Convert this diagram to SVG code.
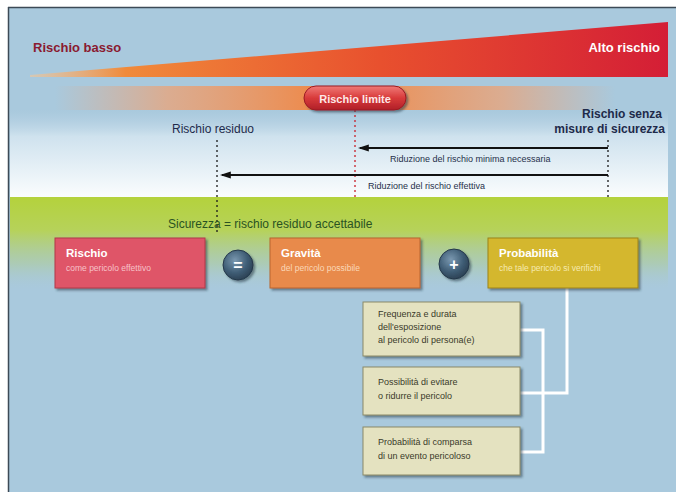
<svg xmlns="http://www.w3.org/2000/svg" width="676" height="492" viewBox="0 0 676 492">
<defs>
<linearGradient id="wedge" x1="0" y1="0" x2="1" y2="0">
<stop offset="0" stop-color="#f2c79a" stop-opacity="0.6"/>
<stop offset="0.15" stop-color="#f08a3a"/>
<stop offset="0.55" stop-color="#e8502e"/>
<stop offset="1" stop-color="#d41e36"/>
</linearGradient>
<linearGradient id="band" x1="0" y1="0" x2="1" y2="0">
<stop offset="0" stop-color="#f0a070" stop-opacity="0"/>
<stop offset="0.2" stop-color="#f0a070" stop-opacity="0.7"/>
<stop offset="0.5" stop-color="#f08440"/>
<stop offset="0.8" stop-color="#f0a070" stop-opacity="0.7"/>
<stop offset="1" stop-color="#f0a070" stop-opacity="0"/>
</linearGradient>
<linearGradient id="sky" x1="0" y1="0" x2="0" y2="1">
<stop offset="0" stop-color="#a9c9dd" stop-opacity="0.4"/>
<stop offset="0.3" stop-color="#cfe2ee"/>
<stop offset="1" stop-color="#fbfdfe"/>
</linearGradient>
<linearGradient id="green" x1="0" y1="0" x2="0" y2="1">
<stop offset="0" stop-color="#b4d23c"/>
<stop offset="0.35" stop-color="#b6d25a"/>
<stop offset="0.7" stop-color="#aecc9a" stop-opacity="0.6"/>
<stop offset="1" stop-color="#a9c9dd" stop-opacity="0"/>
</linearGradient>
<linearGradient id="pill" x1="0" y1="0" x2="0" y2="1">
<stop offset="0" stop-color="#f07a78"/>
<stop offset="0.5" stop-color="#d83a3a"/>
<stop offset="1" stop-color="#b02028"/>
</linearGradient>
<radialGradient id="knob" cx="0.4" cy="0.35" r="0.7">
<stop offset="0" stop-color="#7a98b0"/>
<stop offset="0.6" stop-color="#3e5c74"/>
<stop offset="1" stop-color="#2a3e50"/>
</radialGradient>
<marker id="ah" viewBox="0 0 10 10" refX="8" refY="5" markerWidth="11" markerHeight="9" orient="auto" markerUnits="userSpaceOnUse" preserveAspectRatio="none">
<path d="M0,1 L10,5 L0,9 Z" fill="#111"/>
</marker>
<filter id="sh" x="-10%" y="-10%" width="125%" height="135%">
<feDropShadow dx="2" dy="2" stdDeviation="1.2" flood-color="#2a3a48" flood-opacity="0.55"/>
</filter>
</defs>
<style>
text{font-family:"Liberation Sans",Arial,sans-serif}
.b{font-weight:bold}
.lbl{fill:#1e2a4a;font-size:12px}
.small{fill:#26304a;font-size:9px}
.ttl{fill:#fff;font-weight:bold;font-size:11.5px}
.sub{font-size:8.5px}
.sb{fill:#e4e2c0;stroke:#8a8a68;stroke-width:1}
.st{fill:#3a3a2a;font-size:9px}
.conn{fill:none;stroke:#ffffff;stroke-width:3}
.dot{fill:none;stroke-width:1.3;stroke-dasharray:2 3}
</style>
<rect x="0" y="0" width="676" height="492" fill="#ffffff"/>
<rect x="8" y="7" width="668" height="485" fill="#a9c9dd"/>
<path d="M8,7.5 H676 M8.5,7 V492" stroke="#3c4a56" stroke-width="1.5"/>
<rect x="10" y="110" width="658" height="88" fill="url(#sky)"/>
<rect x="10" y="197" width="658" height="95" fill="url(#green)"/>
<path d="M30,75 L668,22 L668,77 L30,77 Z" fill="url(#wedge)"/>
<g id="title-low"><text x="33" y="52" class="b" font-size="13" fill="#8a1a30">Rischio basso</text></g>
<g id="title-high"><text x="660" y="52" class="b" font-size="13" fill="#ffffff" text-anchor="end">Alto rischio</text></g>
<rect x="55" y="86" width="560" height="24" fill="url(#band)"/>
<g id="connectors">
<line x1="355" y1="110" x2="355" y2="197" class="dot" stroke="#c8202a"/>
<line x1="217" y1="140" x2="217" y2="234" class="dot" stroke="#1a1a1a"/>
<line x1="608" y1="140" x2="608" y2="197" class="dot" stroke="#1a1a1a"/>
<line x1="608" y1="148" x2="360" y2="148" stroke="#111" stroke-width="2" marker-end="url(#ah)"/>
<line x1="608" y1="175" x2="222" y2="175" stroke="#111" stroke-width="2" marker-end="url(#ah)"/>
<polyline points="567,288 567,393 520,393" class="conn"/>
<polyline points="520,330 543,330 543,452 520,452" class="conn"/>
</g>
<g id="rischio-limite">
<rect x="304" y="86" width="102" height="24" rx="12" fill="url(#pill)" stroke="#9a1a22" stroke-width="1" filter="url(#sh)"/>
<text x="355" y="102.5" class="b" font-size="11" fill="#fde8e8" text-anchor="middle">Rischio limite</text>
</g>
<g id="rischio-residuo"><text x="172" y="133" class="lbl">Rischio residuo</text></g>
<g id="rischio-senza">
<text x="662" y="118" class="lbl b" text-anchor="end">Rischio senza</text>
<text x="665" y="133" class="lbl b" text-anchor="end">misure di sicurezza</text>
</g>
<g id="lbl-minima"><text x="390" y="162" class="small">Riduzione del rischio minima necessaria</text></g>
<g id="lbl-effettiva"><text x="368" y="189" class="small">Riduzione del rischio effettiva</text></g>
<g id="sicurezza"><text x="168" y="228" font-size="12" fill="#2a5222">Sicurezza = rischio residuo accettabile</text></g>
<g id="box-rischio">
<rect x="55" y="238" width="150" height="50" fill="#df5568" stroke="#b03a4a" filter="url(#sh)"/>
<text x="66" y="257" class="ttl">Rischio</text>
<text x="66" y="271" class="sub" fill="#f7c2c8">come pericolo effettivo</text>
</g>
<g id="op-eq">
<circle cx="238" cy="265" r="15" fill="url(#knob)" stroke="#24384a" filter="url(#sh)"/>
<text x="238" y="270.5" class="b" font-size="16" fill="#fff" text-anchor="middle">=</text>
</g>
<g id="box-gravita">
<rect x="270" y="238" width="150" height="50" fill="#e88a4c" stroke="#b8642c" filter="url(#sh)"/>
<text x="281" y="257" class="ttl">Gravità</text>
<text x="281" y="271" class="sub" fill="#fbd8b8">del pericolo possibile</text>
</g>
<g id="op-plus">
<circle cx="454" cy="264" r="15" fill="url(#knob)" stroke="#24384a" filter="url(#sh)"/>
<text x="454" y="270" class="b" font-size="16" fill="#fff" text-anchor="middle">+</text>
</g>
<g id="box-probabilita">
<rect x="488" y="238" width="150" height="50" fill="#d4b72e" stroke="#9c8418" filter="url(#sh)"/>
<text x="499" y="257" class="ttl">Probabilità</text>
<text x="499" y="271" class="sub" fill="#f6eab0">che tale pericolo si verifichi</text>
</g>
<g id="box-frequenza">
<rect x="363" y="302" width="157" height="54" class="sb" filter="url(#sh)"/>
<text x="378" y="317" class="st">Frequenza e durata</text>
<text x="378" y="330" class="st">dell'esposizione</text>
<text x="378" y="343" class="st">al pericolo di persona(e)</text>
</g>
<g id="box-possibilita">
<rect x="363" y="367" width="157" height="48" class="sb" filter="url(#sh)"/>
<text x="378" y="385" class="st">Possibilità di evitare</text>
<text x="378" y="399" class="st">o ridurre il pericolo</text>
</g>
<g id="box-comparsa">
<rect x="363" y="427" width="157" height="48" class="sb" filter="url(#sh)"/>
<text x="378" y="445" class="st">Probabilità di comparsa</text>
<text x="378" y="459" class="st">di un evento pericoloso</text>
</g>
</svg>
